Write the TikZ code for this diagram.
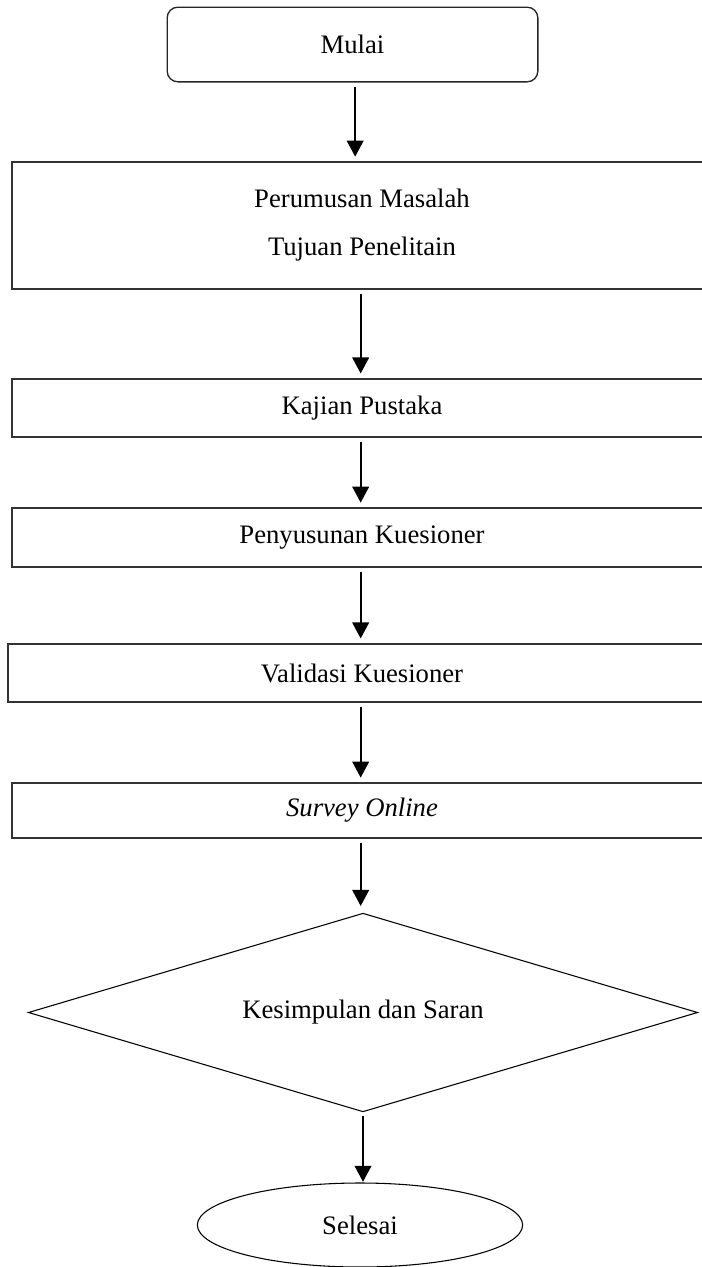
\documentclass[tikz,border=0pt]{standalone}
\usepackage{fontspec}
\setmainfont{Liberation Serif}
\usetikzlibrary{shapes.geometric,arrows.meta}
\begin{document}
\begin{tikzpicture}[x=0.75pt,y=-0.75pt,
  txt/.style={font=\fontsize{20}{36}\selectfont},
  procbox/.style={txt,draw=black!80,line width=1.3pt,rectangle,inner sep=0pt,minimum width=525pt,align=center},
  startbox/.style={txt,draw=black!85,line width=1pt,rectangle,rounded corners=8pt,inner sep=0pt,minimum width=278pt,minimum height=56pt},
  decbox/.style={txt,draw=black,line width=0.8pt,diamond,aspect=3.4,inner sep=0pt,minimum width=502pt,minimum height=149pt},
  endbox/.style={txt,draw=black,line width=0.8pt,ellipse,inner sep=0pt,minimum width=244pt,minimum height=63pt},
  flow/.style={draw=black,line width=1.3pt,-{Triangle[width=12.5pt,length=12pt]},shorten <=3pt,shorten >=3.5pt}]
\useasboundingbox (0,0) rectangle (701,1267);
\node[startbox] (mulai) at (352.5,44.5) {Mulai};
\node[procbox,minimum height=95pt] (rumus) at (362,225.5) {Perumusan Masalah\\Tujuan Penelitain};
\node[procbox,minimum height=43.5pt] (kajian) at (362,408) {Kajian Pustaka};
\node[procbox,minimum height=44pt] (susun) at (362,537.5) {Penyusunan Kuesioner};
\node[procbox,minimum height=43.5pt,minimum width=531pt] (valid) at (362,673) {Validasi Kuesioner};
\node[procbox,minimum height=41pt] (survey) at (362,810.5) {\itshape Survey Online};
\node[decbox] (simpul) at (363,1012.5) {Kesimpulan dan Saran};
\node[endbox] (selesai) at (360,1225) {Selesai};
\draw[flow] ([xshift=2pt]mulai.south) -- ([xshift=2pt]mulai.south |- rumus.north);
\draw[flow] ([xshift=-1pt]rumus.south) -- ([xshift=-1pt]kajian.north);
\draw[flow] ([xshift=-1pt]kajian.south) -- ([xshift=-1pt]susun.north);
\draw[flow] ([xshift=-1pt]susun.south) -- ([xshift=-1pt]valid.north);
\draw[flow] ([xshift=-1pt]valid.south) -- ([xshift=-1pt]survey.north);
\draw[flow,shorten >=5pt] ([xshift=-1pt]survey.south) -- ([xshift=-1pt]survey.south |- simpul.north);
\draw[flow,shorten >=0.5pt] (simpul.south) -- (simpul.south |- selesai.north);
\end{tikzpicture}
\end{document}
